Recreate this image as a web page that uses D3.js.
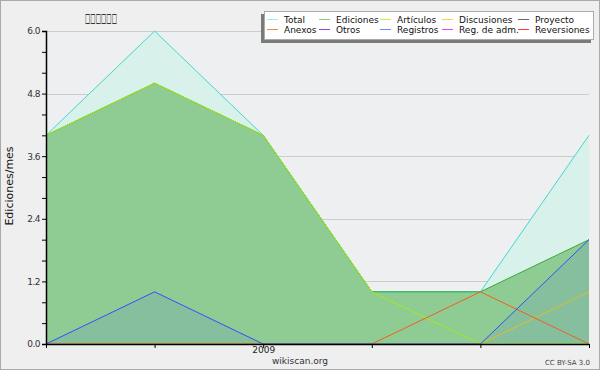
<!DOCTYPE html>
<html>
<head>
<meta charset="utf-8">
<script src="https://cdn.jsdelivr.net/npm/d3@7"></script>
<style>
  body { margin: 0; background: #fff; }
  svg { display: block; font-family: "DejaVu Sans", sans-serif; }
</style>
</head>
<body>
<div id="chart"></div>
<script>
// months of the period, only january gets a label
var months = ["2008-11", "2008-12", "2009-01", "2009-02", "2009-03", "2009-04"];
var monthLabels = ["", "", "2009", "", "", ""];

var total = [4, 6, 4, 1, 1, 4];
var ediciones = [4, 5, 4, 1, 1, 2];
var articulos = [4, 5, 4, 1, 0, 0];
var discusiones = [0, 0, 0, 0, 0, 1];
var anexos = [0, 0, 0, 0, 1, 0];
var registros = [0, 1, 0, 0, 0, 2];

var yTicks = [0, 1.2, 2.4, 3.6, 4.8, 6.0];

var legendRows = [
    ["Total", "Ediciones", "Artículos", "Discusiones", "Proyecto"],
    ["Anexos", "Otros", "Registros", "Reg. de adm.", "Reversiones"]
];
var legendColors = [
    ["#a8e8e2", "#88d088", "#c8f040", "#f8d040", "#666666"],
    ["#f08848", "#9040e8", "#7888ff", "#e048f0", "#ff3838"]
];

var width = 600, height = 370;
var margin = {top: 31, right: 11, bottom: 26, left: 46};

var svg = d3.select("#chart").append("svg")
    .attr("width", width)
    .attr("height", height);

svg.append("rect")
    .attr("x", 0.5).attr("y", 0.5)
    .attr("width", width - 1).attr("height", height - 1)
    .attr("fill", "#efefef")
    .attr("stroke", "#aaaaaa");

var x = d3.scalePoint()
    .domain(months)
    .range([margin.left, width - margin.right]);

var y = d3.scaleLinear()
    .domain([0, 6])
    .range([height - margin.bottom, margin.top]);

svg.append("rect")
    .attr("x", margin.left).attr("y", margin.top)
    .attr("width", width - margin.right - margin.left)
    .attr("height", y(0) - margin.top)
    .attr("fill", "#eeeff1");

// grid
svg.append("g").selectAll("line")
    .data(yTicks)
    .enter().append("line")
    .attr("x1", margin.left).attr("x2", width - margin.right)
    .attr("y1", function(d){ return Math.round(y(d)) + 0.5; })
    .attr("y2", function(d){ return Math.round(y(d)) + 0.5; })
    .attr("stroke", "#cccccc");

function area(vals){
    return d3.area()
        .x(function(d, i){ return x(months[i]); })
        .y0(y(0))
        .y1(function(d){ return y(d); })(vals);
}
function line(vals){
    return d3.line()
        .x(function(d, i){ return x(months[i]); })
        .y(function(d){ return y(d); })(vals);
}

svg.append("path").attr("d", area(total)).attr("fill", "#d8f1ea");
svg.append("path").attr("d", area(ediciones)).attr("fill", "#8bc98f").attr("opacity", 0.95);
svg.append("path").attr("d", area(registros)).attr("fill", "#3050ff").attr("opacity", 0.1);

var series = [
    [total, "#40d8d0"],
    [ediciones, "#3aaa3a"],
    [articulos, "#a8e818"],
    [discusiones, "#e0c020"],
    [anexos, "#f06020"],
    [registros, "#3050ff"]
];
series.forEach(function(s){
    svg.append("path")
        .attr("d", line(s[0]))
        .attr("fill", "none")
        .attr("stroke", s[1])
        .attr("stroke-width", 1);
});

// y axis
var yAxis = svg.append("g")
    .attr("transform", "translate(" + margin.left + ",0)")
    .call(d3.axisLeft(y).tickValues(d3.range(0, 6.01, 0.4)).tickSize(4)
        .tickFormat(function(d){ return yTicks.some(function(t){ return Math.abs(t - d) < 1e-6; }) ? d3.format(".1f")(d) : ""; }));
yAxis.select(".domain").attr("stroke", "#000").attr("stroke-width", 1.5);
yAxis.selectAll(".tick line").attr("stroke", "#000");
yAxis.selectAll(".tick text")
    .attr("font-family", "DejaVu Sans")
    .attr("font-size", 9)
    .attr("fill", "#333")
    .attr("x", -6)
    .attr("letter-spacing", -0.5);

// x axis
var xAxis = svg.append("g")
    .attr("transform", "translate(0," + y(0) + ")")
    .call(d3.axisBottom(x).tickSize(4).tickSizeOuter(0)
        .tickFormat(function(d, i){ return monthLabels[i]; }));
xAxis.select(".domain").attr("stroke", "#000").attr("stroke-width", 1.5);
xAxis.selectAll(".tick line").attr("stroke", "#000");
xAxis.selectAll(".tick text")
    .attr("font-family", "DejaVu Sans")
    .attr("font-size", 9)
    .attr("fill", "#222")
    .attr("y", 3);

svg.append("text")
    .attr("transform", "translate(13,186) rotate(-90)")
    .attr("text-anchor", "middle")
    .attr("font-size", 11)
    .attr("fill", "#111")
    .text("Ediciones/mes");

svg.append("text")
    .attr("x", 85).attr("y", 22)
    .attr("font-size", 12)
    .attr("font-weight", "bold")
    .attr("fill", "#000")
    .attr("textLength", 32)
    .attr("lengthAdjust", "spacingAndGlyphs")
    .text("□□□□□□");

svg.append("text")
    .attr("x", 300).attr("y", 364)
    .attr("text-anchor", "middle")
    .attr("font-size", 9)
    .attr("fill", "#333")
    .text("wikiscan.org");

svg.append("text")
    .attr("x", 590).attr("y", 365)
    .attr("text-anchor", "end")
    .attr("font-size", 7)
    .attr("fill", "#444")
    .text("CC BY-SA 3.0");

// legend with shadow
var leg = svg.append("g");
leg.append("rect")
    .attr("x", 261).attr("y", 14).attr("width", 330).attr("height", 29)
    .attr("fill", "#7a7a7a");
leg.append("rect")
    .attr("x", 264.5).attr("y", 11.5).attr("width", 329).attr("height", 28)
    .attr("fill", "#ffffff").attr("stroke", "#aaaaaa");

var colX = [267, 319, 380, 442, 518];
legendRows.forEach(function(row, r){
    row.forEach(function(name, c){
        var ly = 19 + r * 10;
        leg.append("line")
            .attr("x1", colX[c]).attr("x2", colX[c] + 11)
            .attr("y1", ly + 0.5).attr("y2", ly + 0.5)
            .attr("stroke", legendColors[r][c]);
        leg.append("text")
            .attr("x", colX[c] + 17).attr("y", ly + 3.5)
            .attr("font-size", 9)
            .attr("fill", "#111")
            .text(name);
    });
});
</script>
</body>
</html>
